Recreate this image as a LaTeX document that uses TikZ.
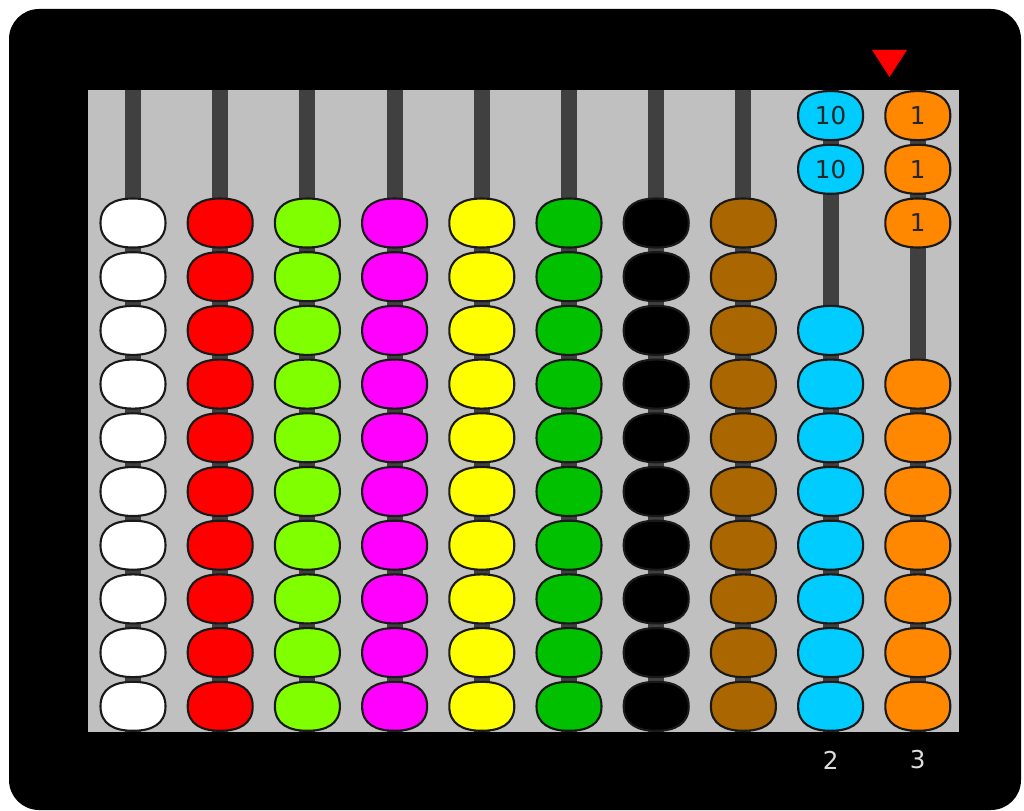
\documentclass[tikz,border=0pt]{standalone}
\usepackage{fontspec}
\setmainfont{DejaVu Sans}

\definecolor{panelgray}{HTML}{C0C0C0}
\definecolor{rodgray}{HTML}{404040}
\definecolor{beadred}{HTML}{FF0000}
\definecolor{beadlime}{HTML}{80FF00}
\definecolor{beadmagenta}{HTML}{FF00FF}
\definecolor{beadyellow}{HTML}{FFFF00}
\definecolor{beadgreen}{HTML}{00C000}
\definecolor{beadbrown}{HTML}{AA6600}
\definecolor{beadcyan}{HTML}{00CCFF}
\definecolor{beadorange}{HTML}{FF8800}
\definecolor{countgray}{HTML}{DDDDDD}

% bead: name, x, y, fill colour, label
\newcommand{\abbead}[5]{%
  \filldraw[beadline, fill=#4, shift={(#2,#3)}]
    (32.5,0) .. controls (32.5,18) and (18.5,24.5) .. (0,24.5)
    .. controls (-18.5,24.5) and (-32.5,18) .. (-32.5,0)
    .. controls (-32.5,-18) and (-18.5,-24.5) .. (0,-24.5)
    .. controls (18.5,-24.5) and (32.5,-18) .. (32.5,0) -- cycle;
  \node[beadtext] (#1) at (#2,#3) {#5};
}

\begin{document}
\begin{tikzpicture}[
  x=0.02cm, y=-0.02cm,
  beadline/.style = {draw=black!90, line width=1.2pt},
  beadtext/.style = {inner sep=0pt, font=\fontsize{14}{14}\selectfont, text=black!85},
  rod/.style = {draw=rodgray, line width=0.32cm},
  count/.style = {text=countgray, font=\fontsize{14}{14}\selectfont}
]
\useasboundingbox (0,0) rectangle (1024,811);

% Frame and board
\fill[white] (0,0) rectangle (1024,811);
\fill[black, rounded corners=0.6cm] (9,9) rectangle (1021,810);
\fill[panelgray] (88,90) rectangle (959,732);

% Rods
\foreach \i in {1,...,10} {
  \pgfmathsetmacro{\x}{133+(\i-1)*87.2}
  \draw[rod] (\x,90) coordinate (top\i) -- (\x,732) coordinate (foot\i);
}

% Full columns
\foreach \i/\col in {1/white, 2/beadred, 3/beadlime, 4/beadmagenta, 5/beadyellow, 6/beadgreen, 7/black, 8/beadbrown} {
  \pgfmathsetmacro{\x}{133+(\i-1)*87.2}
  \foreach \r in {1,...,10} {
    \pgfmathsetmacro{\y}{223+(\r-1)*53.7}
    \abbead{b\i-\r}{\x}{\y}{\col}{}
  }
}

% Tens column
\foreach \r in {-1,0} {
  \pgfmathsetmacro{\y}{223+(\r-1)*53.7}
  \abbead{b9-\r}{830.6}{\y}{beadcyan}{10}
}
\foreach \r in {3,...,10} {
  \pgfmathsetmacro{\y}{223+(\r-1)*53.7}
  \abbead{b9-\r}{830.6}{\y}{beadcyan}{}
}

% Ones column
\foreach \r in {-1,0,1} {
  \pgfmathsetmacro{\y}{223+(\r-1)*53.7}
  \abbead{b10-\r}{917.8}{\y}{beadorange}{1}
}
\foreach \r in {4,...,10} {
  \pgfmathsetmacro{\y}{223+(\r-1)*53.7}
  \abbead{b10-\r}{917.8}{\y}{beadorange}{}
}

% Counts and marker
\node[count] (n9) at (830.6,760) {2};
\node[count] (n10) at (917.8,760) {3};
\fill[red] (872,50) -- (907,50) -- (889.5,77) -- cycle;

\end{tikzpicture}
\end{document}
